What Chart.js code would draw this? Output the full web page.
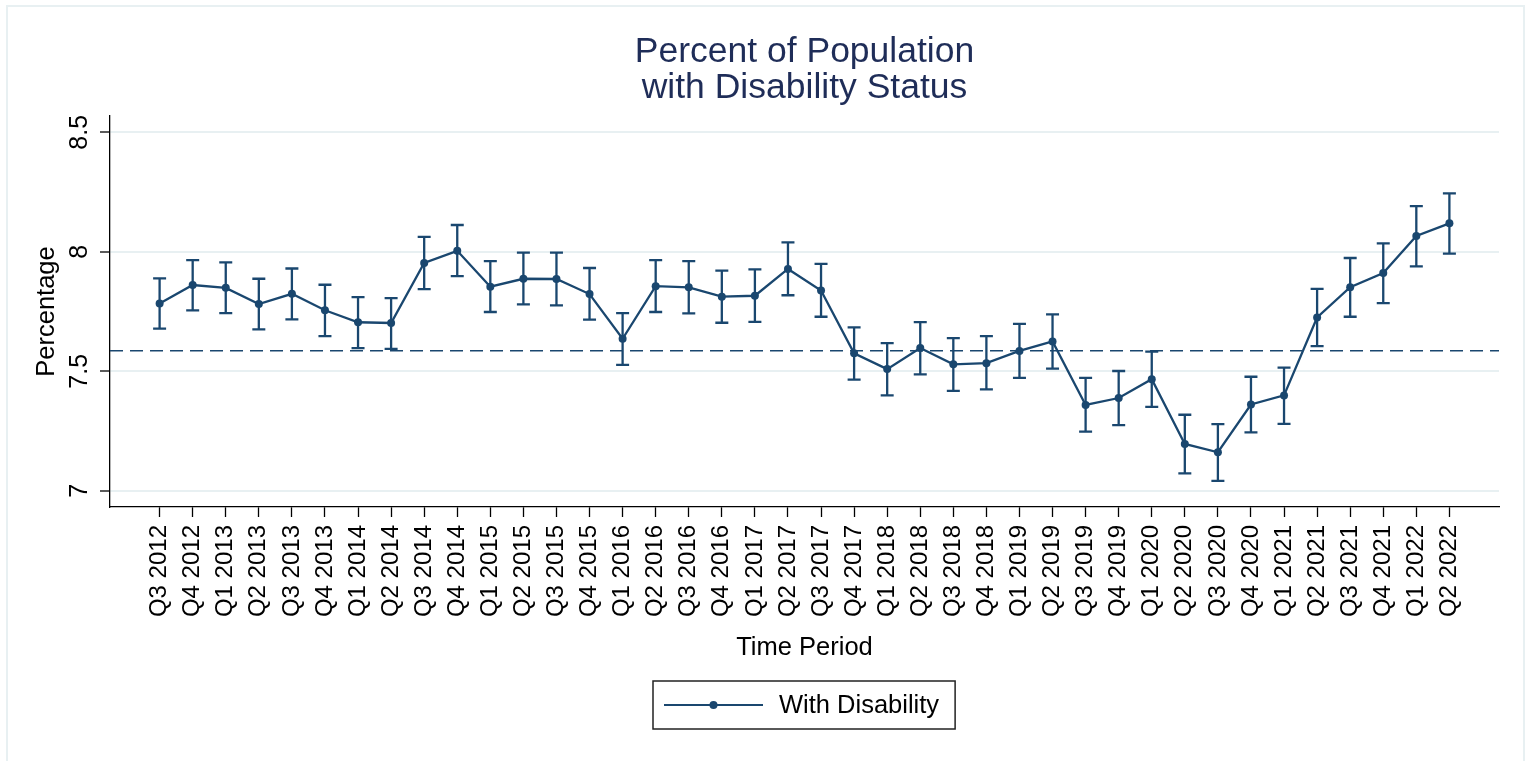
<!DOCTYPE html>
<html>
<head>
<meta charset="utf-8">
<title>Percent of Population with Disability Status</title>
<script src="https://cdn.jsdelivr.net/npm/chart.js@4.4.0/dist/chart.umd.min.js"></script>
<style>
    html, body { margin: 0; padding: 0; background: #ffffff; }
    #wrap { position: relative; width: 1531px; height: 761px; }
</style>
</head>
<body>
<div id="wrap"><canvas id="disabilityChart"></canvas></div>
<script>
// Данные графика
const periods = [
    'Q3 2012', 'Q4 2012',
    'Q1 2013', 'Q2 2013', 'Q3 2013', 'Q4 2013',
    'Q1 2014', 'Q2 2014', 'Q3 2014', 'Q4 2014',
    'Q1 2015', 'Q2 2015', 'Q3 2015', 'Q4 2015',
    'Q1 2016', 'Q2 2016', 'Q3 2016', 'Q4 2016',
    'Q1 2017', 'Q2 2017', 'Q3 2017', 'Q4 2017',
    'Q1 2018', 'Q2 2018', 'Q3 2018', 'Q4 2018',
    'Q1 2019', 'Q2 2019', 'Q3 2019', 'Q4 2019',
    'Q1 2020', 'Q2 2020', 'Q3 2020', 'Q4 2020',
    'Q1 2021', 'Q2 2021', 'Q3 2021', 'Q4 2021',
    'Q1 2022', 'Q2 2022'
];

const rates = [
    7.784, 7.861, 7.849, 7.781, 7.824, 7.755, 7.705, 7.702, 7.953, 8.004,
    7.854, 7.887, 7.886, 7.823, 7.636, 7.856, 7.851, 7.812, 7.816, 7.928,
    7.838, 7.575, 7.509, 7.597, 7.529, 7.534, 7.585, 7.625, 7.359, 7.388,
    7.467, 7.196, 7.161, 7.361, 7.399, 7.725, 7.852, 7.911, 8.066, 8.119
];

const ciHigh = [
    7.889, 7.965, 7.956, 7.887, 7.930, 7.862, 7.810, 7.806, 8.062, 8.112,
    7.961, 7.996, 7.996, 7.932, 7.743, 7.965, 7.961, 7.921, 7.926, 8.039,
    7.949, 7.684, 7.618, 7.706, 7.639, 7.647, 7.698, 7.738, 7.472, 7.501,
    7.582, 7.318, 7.279, 7.477, 7.515, 7.845, 7.974, 8.035, 8.191, 8.244
];

const ciLow = [
    7.678, 7.755, 7.743, 7.675, 7.717, 7.647, 7.597, 7.594, 7.844, 7.898,
    7.748, 7.780, 7.776, 7.716, 7.527, 7.748, 7.742, 7.703, 7.707, 7.818,
    7.728, 7.465, 7.399, 7.487, 7.418, 7.424, 7.472, 7.511, 7.247, 7.275,
    7.351, 7.073, 7.041, 7.244, 7.280, 7.605, 7.728, 7.785, 7.939, 7.992
];

const meanRate = 7.586;
const yTicks = [7, 7.5, 8, 8.5];
const seriesLabel = 'With Disability';

const FONT = "'Liberation Sans', Arial, sans-serif";
const NAVY = '#1a476f';
const GRID = '#e8f0f2';

// Границы осей
const xMin = -1.5, xMax = 40.5;
const yMin = 6.932, yMax = 8.568;

// Доверительные интервалы
const errorBars = {
    id: 'errorBars',
    afterDatasetsDraw(chart) {
        const ctx = chart.ctx;
        const xs = chart.scales.x, ys = chart.scales.y;
        ctx.save();
        ctx.strokeStyle = NAVY;
        ctx.lineWidth = 2.3;
        rates.forEach((v, i) => {
            const x = xs.getPixelForValue(i);
            const top = ys.getPixelForValue(ciHigh[i]);
            const bot = ys.getPixelForValue(ciLow[i]);
            ctx.beginPath();
            ctx.moveTo(x, top); ctx.lineTo(x, bot);
            ctx.moveTo(x - 6.5, top); ctx.lineTo(x + 6.5, top);
            ctx.moveTo(x - 6.5, bot); ctx.lineTo(x + 6.5, bot);
            ctx.stroke();
        });
        ctx.restore();
    }
};

// Подписи оси Y (повернутые), рамка и легенда
const decorations = {
    id: 'decorations',
    afterDraw(chart) {
        const ctx = chart.ctx;
        const ys = chart.scales.y;
        const area = chart.chartArea;
        ctx.save();

        // рамка графика
        ctx.strokeStyle = GRID;
        ctx.lineWidth = 2;
        ctx.beginPath();
        ctx.moveTo(7, 770); ctx.lineTo(7, 6); ctx.lineTo(1524, 6); ctx.lineTo(1524, 770);
        ctx.stroke();

        // подписи делений оси Y
        ctx.fillStyle = '#000';
        ctx.font = '25px ' + FONT;
        ctx.textAlign = 'center';
        ctx.textBaseline = 'alphabetic';
        ys.ticks.forEach(t => {
            const py = ys.getPixelForValue(t.value);
            ctx.save();
            ctx.translate(86.5, py);
            ctx.rotate(-Math.PI / 2);
            ctx.fillText(String(t.value), 0, 0);
            ctx.restore();
        });

        // легенда
        ctx.font = '25.5px ' + FONT;
        const textW = ctx.measureText(seriesLabel).width;
        const boxW = 11 + 99 + 16 + textW + 16;
        const boxH = 48;
        const cx = (area.left + area.right) / 2;
        const left = Math.round(cx - boxW / 2);
        const top = 681;
        const midY = top + boxH / 2;

        ctx.strokeStyle = '#222';
        ctx.lineWidth = 1.5;
        ctx.strokeRect(left, top, boxW, boxH);

        ctx.strokeStyle = NAVY;
        ctx.lineWidth = 2.2;
        ctx.beginPath();
        ctx.moveTo(left + 11, midY); ctx.lineTo(left + 110, midY);
        ctx.stroke();
        ctx.fillStyle = NAVY;
        ctx.beginPath();
        ctx.arc(left + 60.5, midY, 4, 0, Math.PI * 2);
        ctx.fill();

        ctx.fillStyle = '#000';
        ctx.textAlign = 'left';
        ctx.textBaseline = 'middle';
        ctx.fillText(seriesLabel, left + 126, midY + 1);

        ctx.restore();
    }
};

document.addEventListener('DOMContentLoaded', function() {
    const ctx = document.getElementById('disabilityChart').getContext('2d');

    new Chart(ctx, {
        type: 'line',
        data: {
            datasets: [
                {
                    label: seriesLabel,
                    data: rates.map((v, i) => ({ x: i, y: v })),
                    borderColor: NAVY,
                    backgroundColor: NAVY,
                    borderWidth: 2.3,
                    pointRadius: 4,
                    pointBorderWidth: 0,
                    pointBackgroundColor: NAVY,
                    tension: 0,
                    fill: false
                },
                {
                    label: 'Mean',
                    data: [{ x: xMin, y: meanRate }, { x: xMax, y: meanRate }],
                    borderColor: NAVY,
                    borderWidth: 1.4,
                    borderDash: [13, 7],
                    pointRadius: 0,
                    fill: false
                }
            ]
        },
        options: {
            responsive: true,
            maintainAspectRatio: false,
            animation: false,
            layout: { padding: { left: 0, right: 32, top: 0, bottom: 0 } },
            plugins: {
                legend: { display: false },
                tooltip: { enabled: false },
                title: {
                    display: true,
                    fullSize: false,
                    text: ['Percent of Population', 'with Disability Status'],
                    color: '#1f2d58',
                    font: { family: FONT, size: 35.5, weight: 'normal', lineHeight: 1.02 },
                    padding: { top: 34, bottom: 9.6 }
                }
            },
            scales: {
                x: {
                    type: 'linear',
                    min: xMin,
                    max: xMax,
                    afterBuildTicks: s => { s.ticks = periods.map((p, i) => ({ value: i })); },
                    afterFit: s => { s.height = 254; },
                    grid: {
                        drawOnChartArea: false,
                        drawTicks: true,
                        tickLength: 10,
                        tickColor: '#000',
                        tickWidth: 1.3
                    },
                    border: { display: true, color: '#000', width: 1.3 },
                    ticks: {
                        autoSkip: false,
                        minRotation: 90,
                        maxRotation: 90,
                        padding: 8,
                        color: '#000',
                        font: { family: FONT, size: 24 },
                        callback: v => periods[v]
                    },
                    title: {
                        display: true,
                        text: 'Time Period',
                        color: '#000',
                        font: { family: FONT, size: 25.5 },
                        padding: { top: 0, bottom: 97.5 }
                    }
                },
                y: {
                    min: yMin,
                    max: yMax,
                    afterBuildTicks: s => { s.ticks = yTicks.map(v => ({ value: v })); },
                    afterFit: s => { s.width = 110; },
                    grid: {
                        color: GRID,
                        lineWidth: 2,
                        drawTicks: true,
                        tickLength: 10,
                        tickColor: '#000',
                        tickWidth: 1.3
                    },
                    border: { display: true, color: '#000', width: 1.3 },
                    ticks: { display: false },
                    title: {
                        display: true,
                        text: 'Percentage',
                        color: '#000',
                        font: { family: FONT, size: 25.5 },
                        padding: { top: 32, bottom: 0 }
                    }
                }
            }
        },
        plugins: [errorBars, decorations]
    });
});
</script>
</body>
</html>
